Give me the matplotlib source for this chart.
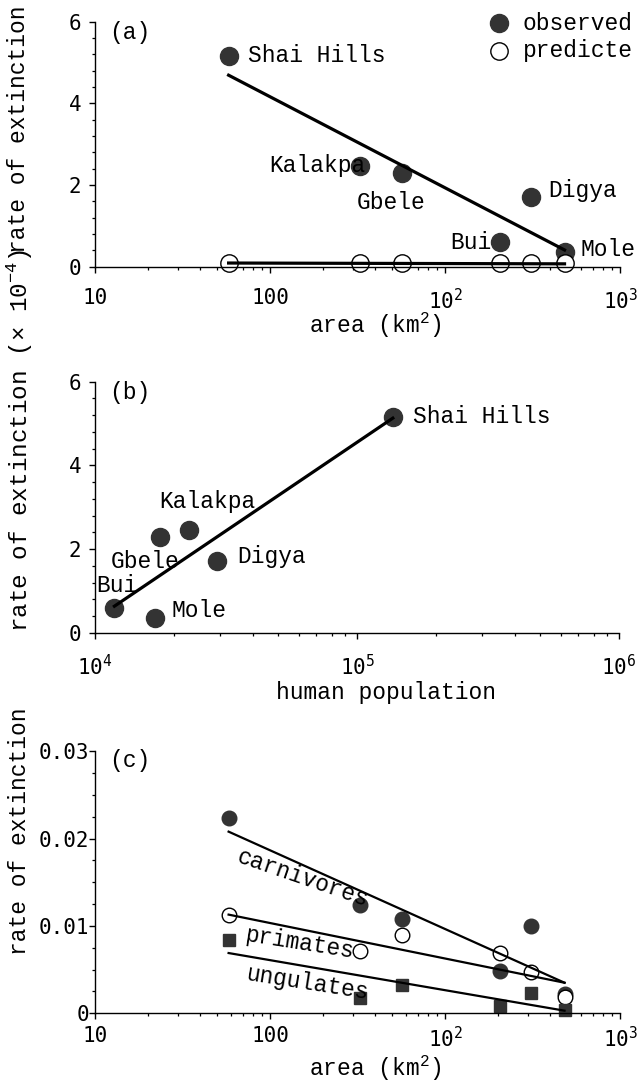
import matplotlib
matplotlib.use("Agg")
import matplotlib.pyplot as plt
from matplotlib.lines import Line2D
from matplotlib.ticker import FixedLocator, FixedFormatter, MultipleLocator, NullFormatter

plt.rcParams['mathtext.fontset'] = 'custom'
plt.rcParams['mathtext.rm'] = 'DejaVu Sans Mono'
plt.rcParams['mathtext.it'] = 'DejaVu Sans Mono'
plt.rcParams['mathtext.tt'] = 'Liberation Mono'

MONO = ['Liberation Mono', 'DejaVu Sans Mono']
TICKF = 'DejaVu Sans Mono'
FS = 16.5
TFS = 15
DARK = '#333333'

# ---------------- data ----------------
reserves = ["Shai Hills", "Kalakpa", "Gbele", "Bui", "Digya", "Mole"]
area_km2 = [58, 326, 566, 2060, 3090, 4820]
population = [137000, 22900, 17700, 11860, 29200, 16900]
rate_observed = [5.16, 2.47, 2.29, 0.60, 1.71, 0.36]
rate_predicted = [0.10, 0.10, 0.10, 0.10, 0.10, 0.10]
fit_area_observed = [4.69, 0.41]      # at smallest / largest area
fit_area_predicted = [0.09, 0.07]
fit_population = [0.64, 5.13]         # at smallest / largest population

carnivores = [0.0224, 0.0124, 0.0108, 0.0048, 0.0100, 0.0022]
primates = [0.0112, 0.0071, 0.0090, 0.0069, 0.0047, 0.0019]
ungulates = [0.0084, 0.0018, 0.0032, 0.0008, 0.0023, 0.0004]
fit_carnivores = [0.0208, 0.0035]
fit_primates = [0.0113, 0.0035]
fit_ungulates = [0.0069, 0.0003]

area_ticks = [10, 100, 1000, 10000]
area_ticklabels = ["10", "100", r"$10^{2}$", r"$10^{3}$"]
pop_ticks = [1e4, 1e5, 1e6]
pop_ticklabels = [r"$10^{4}$", r"$10^{5}$", r"$10^{6}$"]

W, H = 642, 1084
fig = plt.figure(figsize=(W / 100, H / 100), dpi=100)


def fx(px):
    return px / W


def fy(py):
    return 1 - py / H


def make_axes(left, top, right, bottom):
    return fig.add_axes([fx(left), fy(bottom), fx(right) - fx(left), fy(top) - fy(bottom)])


def style(ax, xpad, ypad):
    for s in ('top', 'right'):
        ax.spines[s].set_visible(False)
    for s in ('left', 'bottom'):
        ax.spines[s].set_linewidth(1.0)
    ax.tick_params(which='major', direction='out', length=4, width=1.0,
                   labelsize=TFS, labelfontfamily=TICKF)
    ax.tick_params(which='minor', direction='out', length=2.5, width=0.9)
    ax.tick_params(axis='x', which='major', pad=xpad)
    ax.tick_params(axis='y', which='major', pad=ypad)


def log_minor(lo_exp, hi_exp):
    return [m * 10 ** e for e in range(lo_exp, hi_exp) for m in range(2, 10)]


# ---------------- panel (a) ----------------
axa = make_axes(95, 21.7, 620, 266.7)
axa.set_xscale('log')
axa.set_xlim(10, 1e4)
axa.set_ylim(0, 6)
axa.plot(area_km2, rate_observed, 'o', ms=13, color=DARK, mec=DARK, zorder=2, clip_on=False)
axa.plot(area_km2, rate_predicted, 'o', ms=12.5, mfc='white', mec='black', mew=1.0,
         zorder=2, clip_on=False)
axa.plot([area_km2[0], area_km2[-1]], fit_area_observed, '-', color='black', lw=2.3, zorder=3)
axa.plot([area_km2[0], area_km2[-1]], fit_area_predicted, '-', color='black', lw=2.3, zorder=3)
offs_a = {"Shai Hills": (19, 0, 'left'), "Kalakpa": (6, 0, 'right'),
          "Gbele": (-11, -29, 'center'), "Digya": (18, 6, 'left'),
          "Bui": (-8, 0, 'right'), "Mole": (16, 2, 'left')}
for name, x, y in zip(reserves, area_km2, rate_observed):
    dx, dy, ha = offs_a[name]
    axa.annotate(name, (x, y), xytext=(dx, dy), textcoords='offset pixels',
                 ha=ha, va='center', fontsize=FS, family=MONO, zorder=4)
axa.xaxis.set_major_locator(FixedLocator(area_ticks))
axa.xaxis.set_major_formatter(FixedFormatter(area_ticklabels))
axa.xaxis.set_minor_locator(FixedLocator(log_minor(1, 4)))
axa.xaxis.set_minor_formatter(NullFormatter())
axa.yaxis.set_major_locator(MultipleLocator(2))
axa.yaxis.set_minor_locator(MultipleLocator(0.4))
style(axa, 11, 6)
fig.text(fx(109), fy(32), "(a)", fontsize=FS, family=MONO, ha='left', va='center')

# legend
fig.add_artist(Line2D([fx(499)], [fy(23)], marker='o', ms=13, color=DARK, mec=DARK,
                      transform=fig.transFigure))
fig.add_artist(Line2D([fx(499)], [fy(51)], marker='o', ms=12.5, mfc='white', mec='black',
                      mew=1.0, transform=fig.transFigure))
fig.text(fx(523), fy(23), "observed", fontsize=FS, family=MONO, ha='left', va='center')
fig.text(fx(523), fy(51), "predicte", fontsize=FS, family=MONO, ha='left', va='center')

fig.text(fx(19), fy(129), "rate of extinction", rotation=90, fontsize=FS, family=MONO,
         ha='center', va='center')
fig.text(fx(375), fy(325), r"area (km$^{\mathtt{2}}$)", fontsize=FS, family=MONO,
         ha='center', va='center')

# ---------------- panel (b) ----------------
axb = make_axes(95, 381.7, 619, 633)
axb.set_xscale('log')
axb.set_xlim(1e4, 1e6)
axb.set_ylim(0, 6)
axb.plot(population, rate_observed, 'o', ms=13, color=DARK, mec=DARK, zorder=2, clip_on=False)
axb.plot([min(population), max(population)], fit_population, '-', color='black', lw=2.3, zorder=3)
offs_b = {"Shai Hills": (20, 0, 'left'), "Kalakpa": (18, 28, 'center'),
          "Gbele": (-15, -24, 'center'), "Digya": (20, 5, 'left'),
          "Bui": (2, 22, 'center'), "Mole": (17, 7, 'left')}
for name, x, y in zip(reserves, population, rate_observed):
    dx, dy, ha = offs_b[name]
    axb.annotate(name, (x, y), xytext=(dx, dy), textcoords='offset pixels',
                 ha=ha, va='center', fontsize=FS, family=MONO, zorder=4)
axb.xaxis.set_major_locator(FixedLocator(pop_ticks))
axb.xaxis.set_major_formatter(FixedFormatter(pop_ticklabels))
axb.xaxis.set_minor_locator(FixedLocator(log_minor(4, 6)))
axb.xaxis.set_minor_formatter(NullFormatter())
axb.yaxis.set_major_locator(MultipleLocator(2))
axb.yaxis.set_minor_locator(MultipleLocator(0.4))
style(axb, 11, 6)
fig.text(fx(109), fy(392), "(b)", fontsize=FS, family=MONO, ha='left', va='center')
fig.text(fx(19), fy(632), r"rate of extinction (× 10$^{\mathtt{-4}}$)", rotation=90,
         fontsize=17.5, family=MONO, ha='center', va='bottom')
fig.text(fx(386), fy(692), "human population", fontsize=FS, family=MONO,
         ha='center', va='center')

# ---------------- panel (c) ----------------
axc = make_axes(95, 751.3, 620, 1013.3)
axc.set_xscale('log')
axc.set_xlim(10, 1e4)
axc.set_ylim(0, 0.03)
axc.plot(area_km2, carnivores, 'o', ms=10.5, color=DARK, mec=DARK, zorder=2, clip_on=False)
axc.plot(area_km2, primates, 'o', ms=10.5, mfc='white', mec='black', mew=1.0, zorder=2,
         clip_on=False)
axc.plot(area_km2, ungulates, 's', ms=9, color=DARK, mec=DARK, zorder=2, clip_on=False)
ends = [area_km2[0], area_km2[-1]]
axc.plot(ends, fit_carnivores, '-', color='black', lw=1.6, zorder=3)
axc.plot(ends, fit_primates, '-', color='black', lw=1.6, zorder=3)
axc.plot(ends, fit_ungulates, '-', color='black', lw=1.6, zorder=3)
axc.text(0.396, 0.515, "carnivores", transform=axc.transAxes, rotation=-19,
         rotation_mode='anchor', fontsize=FS, family=MONO, ha='center', va='center', zorder=4)
axc.text(0.390, 0.267, "primates", transform=axc.transAxes, rotation=-9,
         rotation_mode='anchor', fontsize=FS, family=MONO, ha='center', va='center', zorder=4)
axc.text(0.406, 0.115, "ungulates", transform=axc.transAxes, rotation=-9,
         rotation_mode='anchor', fontsize=FS, family=MONO, ha='center', va='center', zorder=4)
axc.xaxis.set_major_locator(FixedLocator(area_ticks))
axc.xaxis.set_major_formatter(FixedFormatter(area_ticklabels))
axc.xaxis.set_minor_locator(FixedLocator(log_minor(1, 4)))
axc.xaxis.set_minor_formatter(NullFormatter())
axc.yaxis.set_major_locator(FixedLocator([0, 0.01, 0.02, 0.03]))
axc.yaxis.set_major_formatter(FixedFormatter(["0", "0.01", "0.02", "0.03"]))
axc.yaxis.set_minor_locator(MultipleLocator(0.0025))
style(axc, 5, 0)
fig.text(fx(109), fy(760), "(c)", fontsize=FS, family=MONO, ha='left', va='center')
fig.text(fx(20), fy(831), "rate of extinction", rotation=90, fontsize=FS, family=MONO,
         ha='center', va='center')
fig.text(fx(375), fy(1068), r"area (km$^{\mathtt{2}}$)", fontsize=FS, family=MONO,
         ha='center', va='center')

fig.savefig("out.png", dpi=100)
